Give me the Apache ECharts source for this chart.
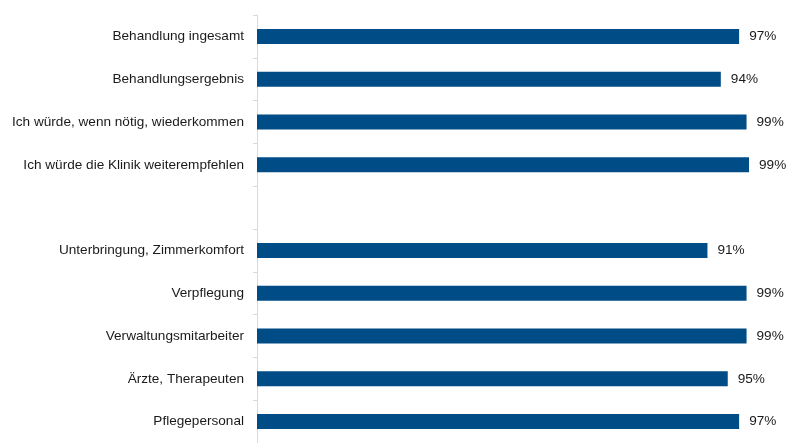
<!DOCTYPE html>
<html>
<head>
<meta charset="utf-8">
<script src="https://cdn.jsdelivr.net/npm/echarts@6/dist/echarts.min.js"></script>
<style>
  html, body { margin: 0; padding: 0; background: #fff; }
  #chart { width: 789px; height: 443px; }
</style>
</head>
<body>
<div id="chart"></div>
<script>
  // Kategorien (leerer Eintrag = Lücke zwischen den Gruppen)
  const categories = [
    'Behandlung ingesamt',
    'Behandlungsergebnis',
    'Ich würde, wenn nötig, wiederkommen',
    'Ich würde die Klinik weiterempfehlen',
    '',
    'Unterbringung, Zimmerkomfort',
    'Verpflegung',
    'Verwaltungsmitarbeiter',
    'Ärzte, Therapeuten',
    'Pflegepersonal'
  ]
  // Zufriedenheit in %
  const values = [97.4, 93.7, 98.9, 99.4, null, 91.0, 98.9, 98.9, 95.1, 97.4]

  let myChart = echarts.init(document.getElementById('chart'))
  myChart.setOption({
    animation: false,
    grid: {
      left: 257,
      right: 37,
      top: 15,
      bottom: -7,
      containLabel: false
    },
    xAxis: {
      type: 'value',
      min: 0,
      max: 100,
      show: false
    },
    yAxis: {
      type: 'category',
      inverse: true,
      data: categories,
      axisLine: { show: true, lineStyle: { color: '#d9d9d9', width: 1 } },
      axisTick: { show: true, length: 4, lineStyle: { color: '#d9d9d9' } },
      axisLabel: {
        margin: 13,
        padding: [2, 0, 0, 0],
        color: '#1a1a1a',
        fontFamily: 'Liberation Sans, Arial, sans-serif',
        fontSize: 13.6
      },
      splitLine: { show: false }
    },
    series: [
      {
        type: 'bar',
        data: values,
        barWidth: 15,
        itemStyle: { color: '#004c87' },
        label: {
          show: true,
          position: 'right',
          distance: 10,
          padding: [2, 0, 0, 0],
          color: '#1a1a1a',
          fontFamily: 'Liberation Sans, Arial, sans-serif',
          fontSize: 13.6,
          formatter: p => Math.round(p.value) + '%'
        }
      }
    ]
  })
</script>
</body>
</html>
